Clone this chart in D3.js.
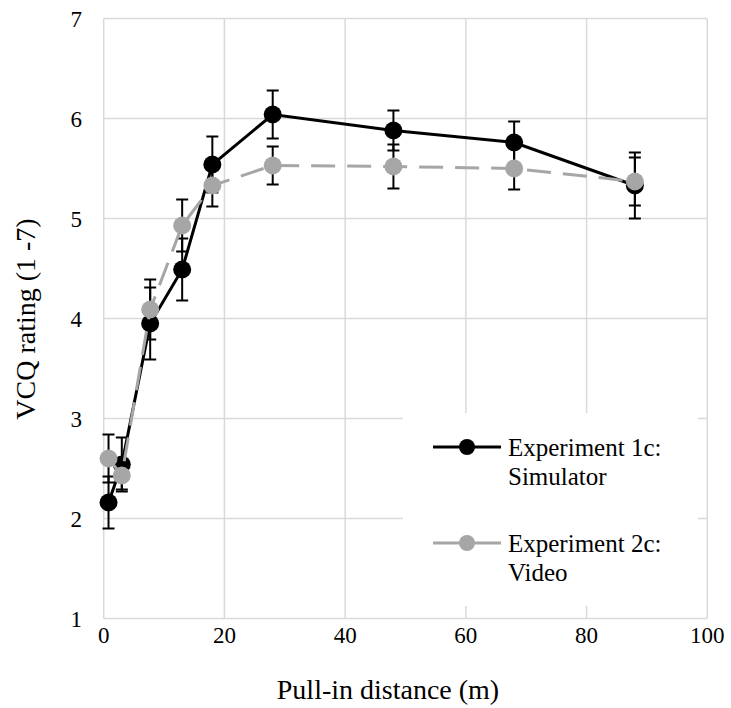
<!DOCTYPE html>
<html><head><meta charset="utf-8">
<script src="https://cdn.jsdelivr.net/npm/d3@7"></script>
</head><body style="margin:0">
<svg id="c" width="731" height="708" style="display:block"></svg>
<script>
const distances = [0.8, 3, 7.7, 13, 18, 28, 48, 68, 88];
const simulator = [2.16, 2.54, 3.95, 4.49, 5.54, 6.04, 5.88, 5.76, 5.33];
const simulatorErr = [0.26, 0.27, 0.36, 0.31, 0.28, 0.24, 0.20, 0.21, 0.33];
const video = [2.60, 2.43, 4.09, 4.93, 5.33, 5.53, 5.52, 5.50, 5.37];
const videoErr = [0.24, 0.14, 0.30, 0.26, 0.21, 0.19, 0.22, 0.21, 0.24];
const xTicks = [0, 20, 40, 60, 80, 100];
const yTicks = [1, 2, 3, 4, 5, 6, 7];
const seriesNames = [["Experiment 1c:", "Simulator"], ["Experiment 2c:", "Video"]];
const xTitle = "Pull-in distance (m)";
const yTitle = "VCQ rating (1 -7)";

const FONT = '"Liberation Serif", Tinos, "Times New Roman", serif';
const svg = d3.select("#c");
const x = d3.scaleLinear().domain([0, 100]).range([103.7, 707.3]);
const y = d3.scaleLinear().domain([1, 7]).range([618.5, 18.5]);

function label(sel) {
  return sel.attr("font-family", FONT).style("font-family", FONT, "important").attr("fill", "#000");
}

const g = svg.append("g");
g.selectAll(".hg").data(yTicks).join("line")
  .attr("x1", x(0)).attr("x2", x(100)).attr("y1", d => y(d)).attr("y2", d => y(d))
  .attr("stroke", "#d9d9d9").attr("stroke-width", 1.5);
g.selectAll(".vg").data(xTicks).join("line")
  .attr("y1", y(1)).attr("y2", y(7)).attr("x1", d => x(d)).attr("x2", d => x(d))
  .attr("stroke", "#d9d9d9").attr("stroke-width", 1.5);

svg.append("rect").attr("x", 403).attr("y", 413).attr("width", 295).attr("height", 193).attr("fill", "#fff");

yTicks.forEach(d => label(svg.append("text")
  .attr("x", 82).attr("y", y(d) + 8).attr("text-anchor", "end")
  .attr("font-size", 23)).text(d));
xTicks.forEach(d => label(svg.append("text")
  .attr("x", x(d)).attr("y", 643).attr("text-anchor", "middle")
  .attr("font-size", 23)).text(d));

label(svg.append("text").attr("x", 388).attr("y", 699).attr("text-anchor", "middle")
  .attr("font-size", 28)).text(xTitle);
label(svg.append("text").attr("transform", "translate(35,319) rotate(-90)").attr("text-anchor", "middle")
  .attr("font-size", 28)).text(yTitle);

function drawSeries(vals, errs, color, dash, r) {
  const s = svg.append("g");
  const pts = distances.map((d, i) => ({x: d, y: vals[i], e: errs[i]}));
  pts.forEach(p => {
    s.append("line").attr("x1", x(p.x)).attr("x2", x(p.x)).attr("y1", y(p.y - p.e)).attr("y2", y(p.y + p.e))
      .attr("stroke", "#000").attr("stroke-width", 2);
    [p.y - p.e, p.y + p.e].forEach(v => s.append("line").attr("x1", x(p.x) - 6).attr("x2", x(p.x) + 6)
      .attr("y1", y(v)).attr("y2", y(v)).attr("stroke", "#000").attr("stroke-width", 2));
  });
  s.append("path").datum(pts).attr("fill", "none").attr("stroke", color).attr("stroke-width", 3)
    .attr("stroke-dasharray", dash).attr("d", d3.line().x(d => x(d.x)).y(d => y(d.y)));
  s.selectAll("circle").data(pts).join("circle").attr("cx", d => x(d.x)).attr("cy", d => y(d.y))
    .attr("r", r).attr("fill", color);
}
drawSeries(simulator, simulatorErr, "#000", null, 9);
drawSeries(video, videoErr, "#a6a6a6", "24,12", 9);

const leg = [{c: "#000", y: 447}, {c: "#a6a6a6", y: 543}];
leg.forEach((l, i) => {
  svg.append("line").attr("x1", 433).attr("x2", 501).attr("y1", l.y).attr("y2", l.y)
    .attr("stroke", l.c).attr("stroke-width", 3);
  svg.append("circle").attr("cx", 467).attr("cy", l.y).attr("r", 8).attr("fill", l.c);
  const t = label(svg.append("text").attr("x", 508).attr("y", l.y + 9).attr("font-size", 25));
  t.append("tspan").attr("x", 508).text(seriesNames[i][0]);
  t.append("tspan").attr("x", 508).attr("dy", 29).text(seriesNames[i][1]);
});
</script>
</body></html>
